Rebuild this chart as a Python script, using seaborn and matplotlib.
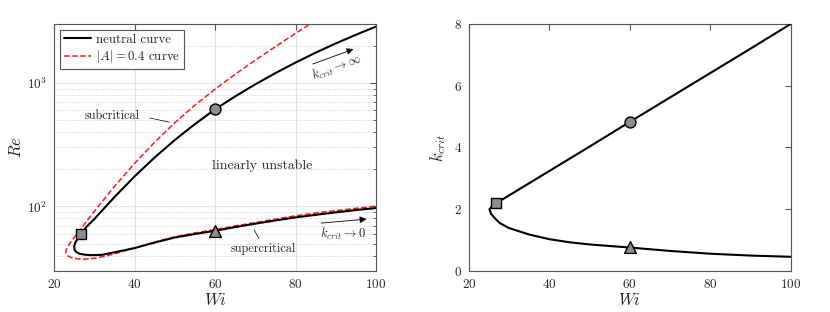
import numpy as np
import pandas as pd
import matplotlib
matplotlib.use("Agg")
import matplotlib.pyplot as plt
import seaborn as sns

# neutral curve (ordered along the curve)
neutral_wi = [100, 95, 90, 85, 80, 75, 70, 65, 60, 55, 50, 45, 40, 35, 32.5, 30, 28, 26.7,
              25.9, 25.3, 25.0, 25.1, 25.6, 26.5, 27.8, 29.5, 32, 35, 40, 45, 50, 55, 60,
              65, 70, 75, 80, 85, 90, 95, 100]
neutral_re = [2858, 2455, 2089, 1758, 1462, 1201, 974, 778, 611, 464, 345, 249, 175, 119, 97, 79, 68, 60,
              55, 51, 47.5, 44.5, 42.5, 41.3, 40.6, 40.3, 40.6, 42.5, 46, 51, 56, 59.8, 63.5,
              68, 72.5, 77, 81.5, 85.5, 89.5, 93.5, 97]

# |A| = 0.4 curve
amp_wi = [85, 80, 75, 70, 65, 60, 55, 50, 45, 40, 35, 31, 28.5, 26.5, 25, 23.8, 23.1, 22.9,
          23.3, 24.3, 25.8, 27.5, 30, 33, 36, 40, 45, 50, 55, 60, 65, 70, 75, 80, 85, 90, 95, 100]
amp_re = [3210, 2521, 1968, 1528, 1175, 891, 661, 476, 331, 223, 145, 100, 79, 65, 56, 49.5, 45, 42.5,
          40, 38.5, 37.6, 37.4, 38.0, 39.8, 42.2, 46, 51.5, 56.8, 61, 65, 69.5, 74, 79, 84, 88.5, 92.5, 96.5, 100.5]

# critical wavenumber, right panel
kcrit_wi = [100, 90, 80, 70, 60, 50, 40, 30, 26.7, 25.8, 25.1, 25.5, 26.5, 27.7, 30, 35, 40,
            45, 50, 55, 60, 70, 80, 90, 100]
kcrit_k = [8.0, 7.2, 6.41, 5.62, 4.83, 4.03, 3.24, 2.45, 2.19, 2.1, 2.0, 1.85, 1.7, 1.55, 1.39, 1.18, 1.03,
           0.93, 0.86, 0.81, 0.76, 0.65, 0.56, 0.5, 0.46]

# highlighted points
pts_wi = [26.7, 60, 60]
pts_re = [60, 611, 63.5]
pts_k = [2.19, 4.83, 0.79]
pts_marker = ["s", "o", "^"]
pts_size = [48, 62, 72]

sns.set_style("white")
plt.rcParams["font.family"] = "serif"
plt.rcParams["font.serif"] = ["cmr10", "DejaVu Serif"]
plt.rcParams["mathtext.fontset"] = "cm"
plt.rcParams["axes.formatter.use_mathtext"] = True
plt.rcParams["xtick.direction"] = "in"
plt.rcParams["ytick.direction"] = "in"
plt.rcParams["xtick.top"] = True
plt.rcParams["ytick.right"] = True
plt.rcParams["axes.edgecolor"] = "#555555"
plt.rcParams["axes.linewidth"] = 0.8

fig = plt.figure(figsize=(8.3, 3.12), dpi=100)
ax1 = fig.add_axes([0.0651, 0.1314, 0.388, 0.7917])
ax2 = fig.add_axes([0.565, 0.1314, 0.3876, 0.7917])

# ---- left panel
sns.lineplot(x=neutral_wi, y=neutral_re, sort=False, estimator=None, color="k", lw=1.5,
             label="neutral curve", ax=ax1, zorder=3)
sns.lineplot(x=amp_wi, y=amp_re, sort=False, estimator=None, color="#ff1a1a", lw=1.1,
             linestyle="--", label=r"$|A| = 0.4$ curve", ax=ax1, zorder=2)
for w, r, m, s in zip(pts_wi, pts_re, pts_marker, pts_size):
    sns.scatterplot(x=[w], y=[r], marker=m, s=s, color="#8c8c8c", edgecolor="k",
                    linewidth=1.0, ax=ax1, zorder=5, legend=False)

ax1.set_yscale("log")
ax1.set_xlim(20, 100)
ax1.set_ylim(30, 3000)
ax1.set_xticks([20, 40, 60, 80, 100])
ax1.grid(which="major", color="#e2e2e2", lw=0.8)
ax1.grid(which="minor", axis="y", color="#c4c4c4", lw=0.6, linestyle=":")
ax1.set_axisbelow(True)
ax1.tick_params(which="major", length=4, labelsize=9.5, color="#555555", pad=5)
ax1.tick_params(which="minor", length=2, color="#555555")
ax1.set_xlabel(r"$Wi$", fontsize=12, labelpad=1)
ax1.set_ylabel(r"$Re$", fontsize=12, labelpad=2)

leg = ax1.legend(loc="upper left", fontsize=9.3, frameon=True, fancybox=False,
                 edgecolor="#555555", framealpha=1, handlelength=2.1, handletextpad=0.4,
                 borderaxespad=0.45, borderpad=0.3, labelspacing=0.2)
leg.get_frame().set_linewidth(0.8)

tr = ax1.transAxes
ax1.text(0.18, 0.628, "subcritical", fontsize=8.8, ha="center", va="center", transform=tr)
ax1.annotate("", xy=(0.367, 0.600), xytext=(0.289, 0.622), xycoords=tr,
             arrowprops=dict(arrowstyle="-", color="k", lw=0.5))
ax1.text(0.646, 0.425, "linearly unstable", fontsize=9.9, ha="center", va="center", transform=tr)
ax1.text(0.649, 0.088, "supercritical", fontsize=8.8, ha="center", va="center", transform=tr)
ax1.annotate("", xy=(0.617, 0.177), xytext=(0.640, 0.123), xycoords=tr,
             arrowprops=dict(arrowstyle="-", color="k", lw=0.5))
ax1.annotate("", xy=(0.938, 0.902), xytext=(0.795, 0.834), xycoords=tr,
             arrowprops=dict(arrowstyle="-|>", color="k", lw=0.6, mutation_scale=10))
ax1.text(0.878, 0.822, r"$k_{crit} \rightarrow \infty$", fontsize=9, rotation=20,
         ha="center", va="center", transform=tr)
ax1.annotate("", xy=(0.979, 0.211), xytext=(0.821, 0.193), xycoords=tr,
             arrowprops=dict(arrowstyle="-|>", color="k", lw=0.6, mutation_scale=10))
ax1.text(0.898, 0.152, r"$k_{crit} \rightarrow 0$", fontsize=9, ha="center", va="center",
         transform=tr)

# ---- right panel
sns.lineplot(x=kcrit_wi, y=kcrit_k, sort=False, estimator=None, color="k", lw=1.5,
             ax=ax2, zorder=3)
for w, k, m, s in zip(pts_wi, pts_k, pts_marker, pts_size):
    sns.scatterplot(x=[w], y=[k], marker=m, s=s, color="#8c8c8c", edgecolor="k",
                    linewidth=1.0, ax=ax2, zorder=5, legend=False)
ax2.set_xlim(20, 100)
ax2.set_ylim(0, 8)
ax2.set_xticks([20, 40, 60, 80, 100])
ax2.set_yticks([0, 2, 4, 6, 8])
ax2.tick_params(which="major", length=4, labelsize=9.5, color="#555555", pad=5)
ax2.set_xlabel(r"$Wi$", fontsize=12, labelpad=1)
ax2.set_ylabel(r"$k_{crit}$", fontsize=12, labelpad=4)

fig.savefig("out.png", dpi=100)
